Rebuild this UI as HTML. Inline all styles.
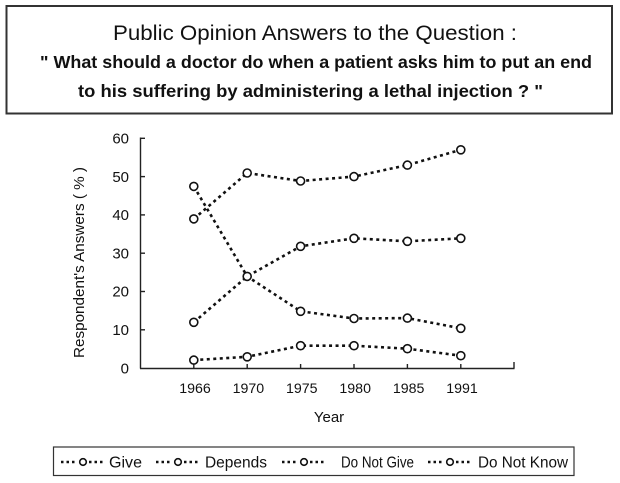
<!DOCTYPE html>
<html>
<head>
<meta charset="utf-8">
<style>
html,body{margin:0;padding:0;background:#fff;}
svg{display:block;}
text{font-family:"Liberation Sans",Arial,sans-serif;fill:#111;}
</style>
</head>
<body>
<svg width="620" height="483" viewBox="0 0 620 483" xmlns="http://www.w3.org/2000/svg">
  <!-- Title box -->
  <rect x="6.5" y="6" width="605.5" height="107.5" fill="#fff" stroke="#333" stroke-width="2"/>
  <text x="315" y="40" font-size="21" text-anchor="middle" textLength="404" lengthAdjust="spacingAndGlyphs">Public Opinion Answers to the Question :</text>
  <text x="316" y="68" font-size="17.5" font-weight="bold" text-anchor="middle" textLength="552" lengthAdjust="spacingAndGlyphs">" What should a doctor do when a patient asks him to put an end</text>
  <text x="310.5" y="97" font-size="17.5" font-weight="bold" text-anchor="middle" textLength="465" lengthAdjust="spacingAndGlyphs">to his suffering by administering a lethal injection ? "</text>

  <!-- Axes -->
  <g stroke="#222" stroke-width="1.4" fill="none">
    <line x1="140.5" y1="137.5" x2="140.5" y2="368.5"/>
    <line x1="140" y1="368.5" x2="514.5" y2="368.5"/>
    <!-- y ticks -->
    <line x1="140.5" y1="138.3" x2="145" y2="138.3"/>
    <line x1="140.5" y1="176.6" x2="145" y2="176.6"/>
    <line x1="140.5" y1="214.9" x2="145" y2="214.9"/>
    <line x1="140.5" y1="253.2" x2="145" y2="253.2"/>
    <line x1="140.5" y1="291.5" x2="145" y2="291.5"/>
    <line x1="140.5" y1="329.8" x2="145" y2="329.8"/>
    <!-- x ticks -->
    <line x1="193.8" y1="368.5" x2="193.8" y2="364"/>
    <line x1="247.2" y1="368.5" x2="247.2" y2="364"/>
    <line x1="300.6" y1="368.5" x2="300.6" y2="364"/>
    <line x1="354" y1="368.5" x2="354" y2="364"/>
    <line x1="407.4" y1="368.5" x2="407.4" y2="364"/>
    <line x1="460.8" y1="368.5" x2="460.8" y2="364"/>
    <line x1="514" y1="368.5" x2="514" y2="362"/>
  </g>

  <!-- Y tick labels -->
  <g font-size="15" text-anchor="end">
    <text x="129" y="143.5">60</text>
    <text x="129" y="181.8">50</text>
    <text x="129" y="220.1">40</text>
    <text x="129" y="258.4">30</text>
    <text x="129" y="296.7">20</text>
    <text x="129" y="335">10</text>
    <text x="129" y="373.5">0</text>
  </g>

  <!-- X tick labels -->
  <g font-size="14.2" text-anchor="middle">
    <text x="195" y="393">1966</text>
    <text x="248.4" y="393">1970</text>
    <text x="301.8" y="393">1975</text>
    <text x="355.2" y="393">1980</text>
    <text x="408.6" y="393">1985</text>
    <text x="462" y="393">1991</text>
  </g>

  <text x="329" y="422" font-size="15" text-anchor="middle">Year</text>
  <text transform="translate(84,262.5) rotate(-90)" font-size="15" text-anchor="middle" textLength="191" lengthAdjust="spacingAndGlyphs">Respondent's Answers ( % )</text>

  <!-- Series lines -->
  <g stroke="#111" stroke-width="2.6" stroke-dasharray="3 3.5" fill="none">
    <!-- Give -->
    <polyline points="193.8,218.9 247.2,173.0 300.6,181.0 354,176.6 407.4,165.1 460.8,149.8"/>
    <!-- Depends -->
    <polyline points="193.8,322.3 247.2,276.4 300.6,246.3 354,238.3 407.4,241.3 460.8,238.3"/>
    <!-- Do Not Give -->
    <polyline points="193.8,186.4 247.2,276.4 300.6,311.3 354,318.5 407.4,318.1 460.8,328.3"/>
    <!-- Do Not Know -->
    <polyline points="193.8,360.1 247.2,356.8 300.6,345.7 354,345.7 407.4,348.7 460.8,355.7"/>
  </g>

  <!-- Markers -->
  <g stroke="#111" stroke-width="1.6" fill="#fff">
    <circle cx="193.8" cy="218.9" r="4"/>
    <circle cx="247.2" cy="173.0" r="4"/>
    <circle cx="300.6" cy="181.0" r="4"/>
    <circle cx="354" cy="176.6" r="4"/>
    <circle cx="407.4" cy="165.1" r="4"/>
    <circle cx="460.8" cy="149.8" r="4"/>

    <circle cx="193.8" cy="322.3" r="4"/>
    <circle cx="247.2" cy="276.4" r="4"/>
    <circle cx="300.6" cy="246.3" r="4"/>
    <circle cx="354" cy="238.3" r="4"/>
    <circle cx="407.4" cy="241.3" r="4"/>
    <circle cx="460.8" cy="238.3" r="4"/>

    <circle cx="193.8" cy="186.4" r="4"/>
    <circle cx="300.6" cy="311.3" r="4"/>
    <circle cx="354" cy="318.5" r="4"/>
    <circle cx="407.4" cy="318.1" r="4"/>
    <circle cx="460.8" cy="328.3" r="4"/>

    <circle cx="193.8" cy="360.1" r="4"/>
    <circle cx="247.2" cy="356.8" r="4"/>
    <circle cx="300.6" cy="345.7" r="4"/>
    <circle cx="354" cy="345.7" r="4"/>
    <circle cx="407.4" cy="348.7" r="4"/>
    <circle cx="460.8" cy="355.7" r="4"/>
  </g>

  <!-- Legend -->
  <rect x="53.5" y="447" width="520.5" height="28.5" fill="#fff" stroke="#333" stroke-width="1.2"/>
  <g stroke="#111" stroke-width="2.4" stroke-dasharray="2.5 3" fill="none">
    <line x1="61" y1="462" x2="77" y2="462"/>
    <line x1="89" y1="462" x2="104" y2="462"/>
    <line x1="156" y1="462" x2="172" y2="462"/>
    <line x1="184" y1="462" x2="199" y2="462"/>
    <line x1="282" y1="462" x2="298" y2="462"/>
    <line x1="310" y1="462" x2="325" y2="462"/>
    <line x1="428" y1="462" x2="444" y2="462"/>
    <line x1="456" y1="462" x2="471" y2="462"/>
  </g>
  <g stroke="#111" stroke-width="1.6" fill="#fff">
    <circle cx="83" cy="462" r="3.3"/>
    <circle cx="178" cy="462" r="3.3"/>
    <circle cx="304" cy="462" r="3.3"/>
    <circle cx="450" cy="462" r="3.3"/>
  </g>
  <g font-size="15.5">
    <text x="109" y="467.5" textLength="33" lengthAdjust="spacingAndGlyphs">Give</text>
    <text x="205" y="467.5" textLength="62" lengthAdjust="spacingAndGlyphs">Depends</text>
    <text x="341" y="467.5" textLength="73" lengthAdjust="spacingAndGlyphs">Do Not Give</text>
    <text x="478" y="467.5" textLength="90" lengthAdjust="spacingAndGlyphs">Do Not Know</text>
  </g>
</svg>
</body>
</html>
